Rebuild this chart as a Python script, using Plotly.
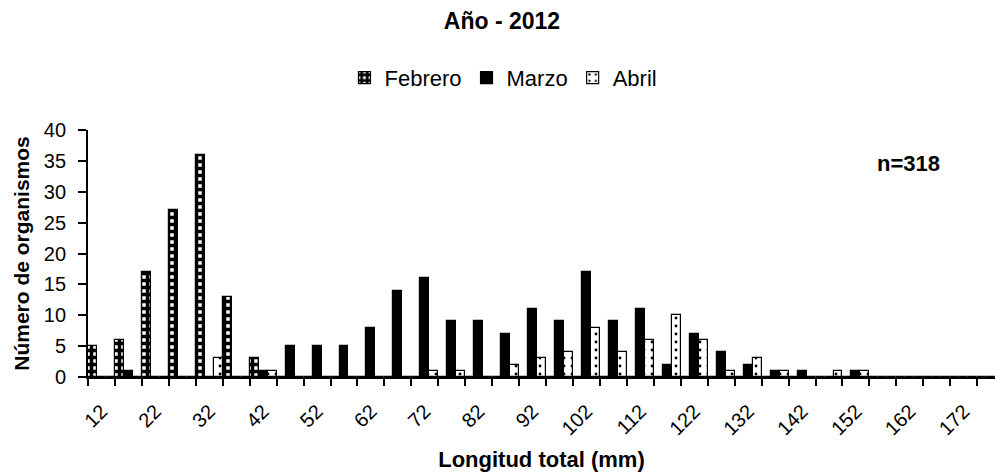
import plotly.graph_objects as go

# Length classes (mm), 5-mm bins
bins = [12, 17, 22, 27, 32, 37, 42, 47, 52, 57, 62, 67, 72, 77, 82, 87, 92,
        97, 102, 107, 112, 117, 122, 127, 132, 137, 142, 147, 152, 157, 162,
        167, 172, 177]
tick_labels = [12, 22, 32, 42, 52, 62, 72, 82, 92, 102, 112, 122, 132, 142,
               152, 162, 172]

febrero = [5, 6, 17, 27, 36, 13, 3, 0, 0, 0, 0, 0, 0, 0, 0, 0, 0,
           0, 0, 0, 0, 0, 0, 0, 0, 0, 0, 0, 0, 0, 0, 0, 0, 0]
marzo = [0, 1, 0, 0, 0, 0, 1, 5, 5, 5, 8, 14, 16, 9, 9, 7, 11,
         9, 17, 9, 11, 2, 7, 4, 2, 1, 1, 0, 1, 0, 0, 0, 0, 0]
abril = [0, 0, 0, 0, 3, 0, 1, 0, 0, 0, 0, 0, 1, 1, 0, 2, 3,
         4, 8, 4, 6, 10, 6, 1, 3, 1, 0, 1, 1, 0, 0, 0, 0, 0]

FONT = "Liberation Sans, Arial, sans-serif"

fig = go.Figure()
fig.add_trace(go.Bar(
    x=bins, y=febrero, name="Febrero",
    marker=dict(color="white", line=dict(color="black", width=1.2),
                pattern=dict(shape="+", fgcolor="black", bgcolor="white",
                             size=7, solidity=0.75, fillmode="replace")),
))
fig.add_trace(go.Bar(
    x=bins, y=marzo, name="Marzo",
    marker=dict(color="black", line=dict(color="black", width=1.2)),
))
fig.add_trace(go.Bar(
    x=bins, y=abril, name="Abril",
    marker=dict(color="white", line=dict(color="black", width=1.2),
                pattern=dict(shape=".", fgcolor="black", bgcolor="white",
                             size=8, solidity=0.1, fillmode="replace")),
))

boundaries = [b - 2.5 for b in bins]

fig.update_layout(
    width=995, height=472,
    paper_bgcolor="white", plot_bgcolor="white",
    barmode="group", bargap=0, bargroupgap=0,
    margin=dict(l=88, r=0, t=130, b=95),
    font=dict(family=FONT, size=20, color="black"),
    title=dict(text="<b>Año - 2012</b>", x=0.5045, xref="container",
               xanchor="center", y=0.955, yref="container", yanchor="middle",
               font=dict(family=FONT, size=23, color="black")),
    showlegend=True,
    legend=dict(orientation="h", x=0.506, xref="container", xanchor="center",
                y=0.835, yref="container", yanchor="middle",
                font=dict(family=FONT, size=22, color="black"),
                itemwidth=30, traceorder="normal", bgcolor="rgba(0,0,0,0)"),
    xaxis=dict(
        range=[9.5, 177.8], automargin=False,
        tickmode="array", tickvals=tick_labels,
        ticktext=[str(t) for t in tick_labels],
        tickangle=-45, ticks="", ticklabelstandoff=13,
        showgrid=False, zeroline=False,
        showline=True, linecolor="black", linewidth=1.8,
        tickfont=dict(family=FONT, size=20, color="black"),
        minor=dict(tickmode="array", tickvals=boundaries, ticks="outside",
                   ticklen=7, tickwidth=1.8, tickcolor="black", showgrid=False),
        title=dict(text="<b>Longitud total (mm)</b>", standoff=19,
                   font=dict(family=FONT, size=22, color="black")),
    ),
    yaxis=dict(
        range=[0, 40], automargin=False,
        tickmode="linear", tick0=0, dtick=5,
        ticks="outside", ticklen=8, tickwidth=1.8, tickcolor="black",
        ticklabelstandoff=8,
        showgrid=False, zeroline=False,
        showline=True, linecolor="black", linewidth=1.8,
        tickfont=dict(family=FONT, size=20, color="black"),
        title=dict(text="<b>Número de organismos</b>", standoff=8,
                   font=dict(family=FONT, size=21, color="black")),
    ),
    annotations=[dict(text="<b>n=318</b>", x=0.905, y=0.864, xref="paper",
                      yref="paper", xanchor="center", yanchor="middle",
                      showarrow=False,
                      font=dict(family=FONT, size=22, color="black"))],
)

fig.write_html("out.html",
               config={"displayModeBar": False},
               post_script="document.body.style.margin='0';"
                           "document.body.style.overflow='hidden';")
